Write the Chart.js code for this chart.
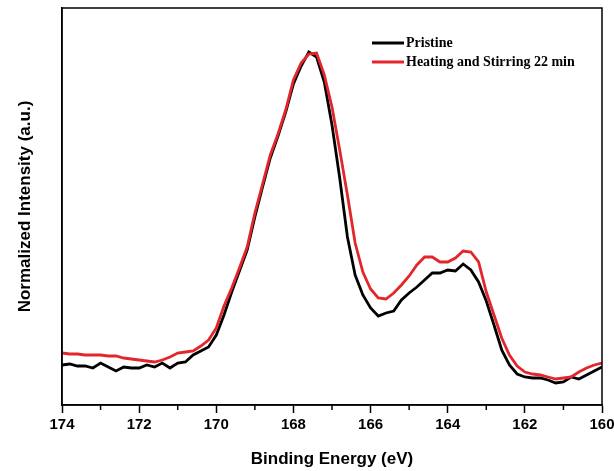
<!DOCTYPE html>
<html>
<head>
<meta charset="utf-8">
<script src="https://cdn.jsdelivr.net/npm/chart.js@4.4.0/dist/chart.umd.min.js"></script>
<style>
  html, body { margin: 0; padding: 0; background: #fff; }
  canvas { display: block; }
</style>
</head>
<body>
<canvas id="xps" width="614" height="471"></canvas>
<script>
// --- dados ---
const energias = [
  174.0, 173.8, 173.6, 173.4, 173.2, 173.0, 172.8, 172.6, 172.4, 172.2, 172.0,
  171.8, 171.6, 171.4, 171.2, 171.0, 170.8, 170.6, 170.4, 170.2, 170.0,
  169.8, 169.6, 169.4, 169.2, 169.0, 168.8, 168.6, 168.4, 168.2, 168.0,
  167.8, 167.6, 167.4, 167.2, 167.0, 166.8, 166.6, 166.4, 166.2, 166.0,
  165.8, 165.6, 165.4, 165.2, 165.0, 164.8, 164.6, 164.4, 164.2, 164.0,
  163.8, 163.6, 163.4, 163.2, 163.0, 162.8, 162.6, 162.4, 162.2, 162.0,
  161.8, 161.6, 161.4, 161.2, 161.0, 160.8, 160.6, 160.4, 160.2, 160.0
];

const pristine = [
  40, 41, 39, 39, 37, 42, 38, 34, 38, 37, 37,
  40, 38, 42, 37, 42, 43, 50, 54, 58, 70,
  90, 113, 134, 155, 188, 218, 247, 269, 293, 321,
  339, 353, 348, 323, 280, 227, 168, 130, 110, 97,
  89, 92, 94, 105, 112, 118, 125, 132, 132, 135,
  134, 141, 135, 123, 104, 80, 55, 40, 31, 28,
  27, 27, 25, 22, 23, 28, 26, 30, 34, 38
];

const aquecido = [
  52, 51, 51, 50, 50, 50, 49, 49, 47, 46, 45,
  44, 43, 45, 48, 52, 53, 54, 59, 65, 77,
  99, 117, 137, 158, 192, 221, 250, 271, 295, 325,
  342, 351, 352, 330, 298, 255, 210, 162, 133, 116,
  107, 106, 112, 120, 129, 140, 148, 148, 143, 143,
  147, 154, 153, 143, 113, 90, 67, 50, 39, 33,
  31, 30, 28, 26, 27, 28, 33, 37, 40, 42
];

const ticksX = [174, 172, 170, 168, 166, 164, 162, 160];
const ticksMenores = [173, 171, 169, 167, 165, 163, 161];

const rotulos = ['Pristine', 'Heating and Stirring 22 min'];
const cores = ['#000000', '#e3262b'];

// monta pares {x, y}
function pontos(serie) {
  return energias.map((e, i) => ({ x: e, y: serie[i] }));
}

// moldura, ticks menores e legenda
const molduraPlugin = {
  id: 'moldura',
  afterDraw(chart) {
    const { ctx, chartArea: a, scales: { x } } = chart;
    ctx.save();
    ctx.strokeStyle = '#000';
    ctx.lineWidth = 1.5;
    ctx.strokeRect(a.left, a.top, a.right - a.left, a.bottom - a.top);

    ticksMenores.forEach(v => {
      const px = x.getPixelForValue(v);
      ctx.beginPath();
      ctx.moveTo(px, a.bottom);
      ctx.lineTo(px, a.bottom + 5);
      ctx.stroke();
    });

    // legenda
    ctx.font = 'bold 14px "Liberation Serif", "Times New Roman", serif';
    ctx.textBaseline = 'middle';
    ctx.fillStyle = '#000';
    rotulos.forEach((r, i) => {
      const y = 43 + i * 19;
      ctx.strokeStyle = cores[i];
      ctx.lineWidth = 3;
      ctx.beginPath();
      ctx.moveTo(372, y);
      ctx.lineTo(404, y);
      ctx.stroke();
      ctx.fillText(r, 406, y);
    });
    ctx.restore();
  }
};

Chart.defaults.font.family = '"Liberation Sans", Arial, sans-serif';
Chart.defaults.color = '#000';

const ctx = document.getElementById('xps').getContext('2d');
const grafico = new Chart(ctx, {
  type: 'line',
  data: {
    datasets: [
      {
        label: rotulos[0],
        data: pontos(pristine),
        borderColor: cores[0],
        borderWidth: 2.8,
        pointRadius: 0,
        tension: 0,
        order: 1
      },
      {
        label: rotulos[1],
        data: pontos(aquecido),
        borderColor: cores[1],
        borderWidth: 2.8,
        pointRadius: 0,
        tension: 0,
        order: 0
      }
    ]
  },
  options: {
    responsive: false,
    animation: false,
    layout: { padding: { top: 8, right: 12, left: 0, bottom: 0 } },
    plugins: {
      legend: { display: false },
      tooltip: { enabled: false }
    },
    scales: {
      x: {
        type: 'linear',
        reverse: true,
        min: 160,
        max: 174,
        afterBuildTicks: (scale) => {
          scale.ticks = ticksX.map(v => ({ value: v }));
        },
        ticks: {
          font: { size: 15, weight: 'bold' },
          padding: 3,
          maxRotation: 0,
          callback: (v) => v
        },
        grid: {
          drawOnChartArea: false,
          tickLength: 8,
          tickColor: '#000',
          tickWidth: 1.5
        },
        border: { color: '#000', width: 1.5 },
        title: {
          display: true,
          text: 'Binding Energy (eV)',
          font: { size: 17, weight: 'bold' },
          padding: { top: 0, bottom: 1 }
        },
        afterFit: (scale) => {
          scale.height = 66;
          // o rótulo "160" pode encostar na borda, como no original
          scale.paddingLeft = 0;
          scale.paddingRight = 0;
        }
      },
      y: {
        min: 0,
        max: 397,
        ticks: { display: false },
        grid: { display: false },
        border: { color: '#000', width: 1.5 },
        title: {
          display: true,
          text: 'Normalized Intensity (a.u.)',
          font: { size: 17, weight: 'bold' },
          padding: { top: 15, bottom: 0 }
        },
        afterFit: (scale) => { scale.width = 62; }
      }
    }
  },
  plugins: [molduraPlugin]
});
</script>
</body>
</html>
